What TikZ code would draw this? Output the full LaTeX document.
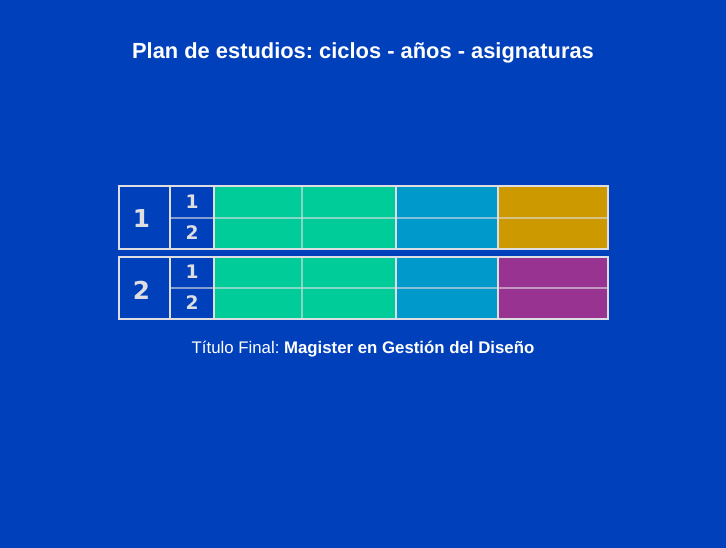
\documentclass[tikz,border=0pt]{standalone}
\usepackage{fontspec}
\setmainfont{Liberation Sans}
\newfontfamily\numfont{DejaVu Sans}
\definecolor{fondo}{RGB}{0,64,187}
\definecolor{verde}{RGB}{0,204,153}
\definecolor{celeste}{RGB}{0,153,204}
\definecolor{oro}{RGB}{204,153,0}
\definecolor{violeta}{RGB}{153,51,145}
\definecolor{grisclaro}{RGB}{222,222,226}
\frenchspacing

\begin{document}
\begin{tikzpicture}[x=0.75pt,y=-0.75pt,
	borde/.style={draw=grisclaro, line width=0.95pt},
	interior/.style={draw=grisclaro, draw opacity=0.6, line width=0.95pt},
	ciclo/.style={text=grisclaro, font=\numfont\bfseries\fontsize{18.5}{22}\selectfont},
	anio/.style={text=grisclaro, font=\numfont\bfseries\fontsize{14}{17}\selectfont}]
		\fill[fondo] (0,0) rectangle (726,548);
		\node[text=white, font=\bfseries\fontsize{16.4}{19}\selectfont] at (363,53) (titulo) {Plan de estudios: ciclos - años - asignaturas};
		
		% ciclo 1
		\fill[verde] (214,186) rectangle (396,249);
		\fill[celeste] (396,186) rectangle (498,249);
		\fill[oro] (498,186) rectangle (608,249);
		\draw[interior] (170,218) -- (608,218);
		\draw[interior] (302,186) -- (302,249);
		\draw[borde] (170,186) -- (170,249);
		\draw[borde] (214,186) -- (214,249);
		\draw[borde] (396,186) -- (396,249);
		\draw[borde] (498,186) -- (498,249);
		\draw[borde] (119,186) rectangle (608,249);
		\node[ciclo] at (141.5,219) (c1) {1};
		\node[anio] at (192,202) (c1a1) {1};
		\node[anio] at (192,233) (c1a2) {2};
		
		% ciclo 2
		\fill[verde] (214,257) rectangle (396,319);
		\fill[celeste] (396,257) rectangle (498,319);
		\fill[violeta] (498,257) rectangle (608,319);
		\draw[interior] (170,288) -- (608,288);
		\draw[interior] (302,257) -- (302,319);
		\draw[borde] (170,257) -- (170,319);
		\draw[borde] (214,257) -- (214,319);
		\draw[borde] (396,257) -- (396,319);
		\draw[borde] (498,257) -- (498,319);
		\draw[borde] (119,257) rectangle (608,319);
		\node[ciclo] at (141.5,290) (c2) {2};
		\node[anio] at (192,272) (c2a1) {1};
		\node[anio] at (192,303) (c2a2) {2};
		
		\node[text=white, font=\fontsize{12.6}{15}\selectfont] at (363,349) (final) {Título Final: \textbf{Magister en Gestión del Diseño}};
	\end{tikzpicture}
\end{document}
